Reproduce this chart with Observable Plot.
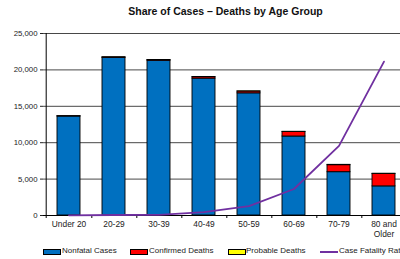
<!DOCTYPE html>
<html><head><meta charset="utf-8">
<script src="https://cdn.jsdelivr.net/npm/d3@7"></script>
<script src="https://cdn.jsdelivr.net/npm/@observablehq/plot@0.6"></script>
<style>
body{margin:0;background:#fff;font-family:Arial,"Liberation Sans",sans-serif}
#wrap{position:relative;width:400px;height:259px;overflow:hidden;background:#fff}
#title{position:absolute;top:5px;left:43px;width:365px;text-align:center;font-weight:bold;font-size:10.5px;color:#111}
#chart{position:absolute;top:0;left:0;width:420px}
#chart svg{max-width:none !important;width:420px;height:259px}
.lg{position:absolute;top:246px;font-size:8px;color:#222;white-space:nowrap;line-height:10px}
.sw{position:absolute;top:249px;width:16px;height:4px;border:1px solid #000}
.ln{position:absolute;top:250.5px;width:18px;height:2px;background:#7030A0}
</style></head>
<body>
<div id="wrap">
  <div id="title">Share of Cases – Deaths by Age Group</div>
  <div id="chart"></div>
  <div class="sw" style="left:43px;background:#0070C0"></div><div class="lg" style="left:62px">Nonfatal Cases</div>
  <div class="sw" style="left:130px;background:#FF0000"></div><div class="lg" style="left:149px">Confirmed Deaths</div>
  <div class="sw" style="left:228px;background:#FFFF00"></div><div class="lg" style="left:246px">Probable Deaths</div>
  <div class="ln" style="left:320px"></div><div class="lg" style="left:339px">Case Fatality Rate</div>
</div>
<script>
const ages = ["Under 20","20-29","30-39","40-49","50-59","60-69","70-79","80 and Older"];
const nonfatal  = [13600, 21650, 21250, 18800, 16780, 10850, 5950, 4000];
const confirmed = [30, 70, 100, 200, 250, 620, 960, 1700];
const probable  = [5, 10, 10, 20, 20, 30, 50, 40];
const cfr = [0.03, 0.1, 0.13, 0.63, 1.8, 5.1, 13.4, 29.6]; // percent
const cfrMax = 35; // right-axis maximum (%)
const series = ["Nonfatal Cases","Confirmed Deaths","Probable Deaths"];
const colors = ["#0070C0","#FF0000","#FFFF00"];
const yTicks = [0,5000,10000,15000,20000,25000];

const rows = [];
[nonfatal, confirmed, probable].forEach((arr, s) =>
  arr.forEach((v, i) => rows.push({age: ages[i], series: series[s], value: v})));
const cfrRows = ages.map((a, i) => ({age: a, cfr: cfr[i]}));

const W = 420, ML = 43, MR = 12;
const step = (W - ML - MR) / ages.length;

const chart = Plot.plot({
  width: W, height: 259,
  marginLeft: ML, marginRight: MR, marginTop: 33, marginBottom: 44,
  style: {fontFamily: "Arial, 'Liberation Sans', sans-serif", fontSize: "7.5px", color: "#222", background: "transparent", maxWidth: "none"},
  x: {domain: ages, paddingInner: 0.49, paddingOuter: 0.245, align: 0.5, label: null},
  y: {domain: [0, 25000], label: null},
  color: {domain: series, range: colors},
  marks: [
    Plot.ruleY(yTicks.filter(d => d > 0), {stroke: "#333", strokeWidth: 0.9}),
    Plot.barY(rows, {x: "age", y: "value", fill: "series", stroke: "#000", strokeWidth: 0.9}),
    Plot.ruleY([0], {stroke: "#000"}),
    Plot.ruleX([ages[0]], {y1: 25000, y2: 0, insetBottom: -3, dx: -step / 2, stroke: "#000"}),
    Plot.ruleX(ages, {y1: 0, y2: 0, insetBottom: -3, dx: step / 2, stroke: "#000"}),
    Plot.line(cfrRows, {x: "age", y: d => d.cfr / cfrMax * 25000, stroke: "#7030A0", strokeWidth: 1.8}),
    Plot.axisX({tickSize: 0, tickPadding: 5, fontSize: 8.4, lineHeight: 1.15, label: null,
      tickFormat: d => d === "80 and Older" ? "80 and\nOlder" : d}),
    Plot.axisY({ticks: yTicks, tickFormat: d3.format(","), tickSize: 3, tickPadding: 3, fontSize: 7.8, label: null})
  ]
});
document.getElementById("chart").appendChild(chart);
</script>
</body></html>
